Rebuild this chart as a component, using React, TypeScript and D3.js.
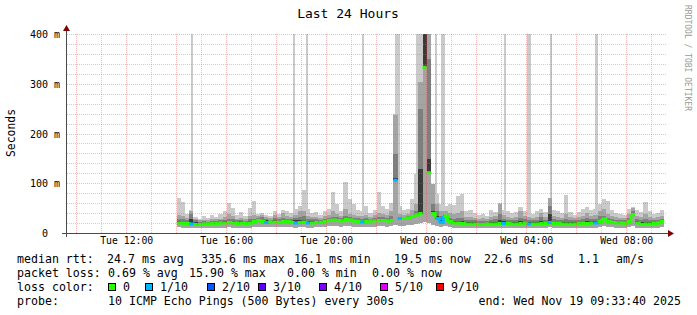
import React from 'react';
import * as d3 from 'd3';

// ---------- DATA ----------
const PLOT_START = '2025-11-18 09:36:40';
const PLOT_END = '2025-11-19 09:36:40';
const DATA_START = '2025-11-18 14:00:00';
const STEP_MIN = 10;

// median rtt (ms) per 10-minute bin
const median = [21,20,20,19,18,18,19,19,20,20,21,21,22,21,20,21,20,21,24,26,24,22,23,23,22,24,24,22,21,22,23,21,21,22,22,24,26,27,26,25,28,27,25,24,23,24,25,25,26,26,25,26,107,30,30,31,34,37,40,334,122,40,30,22,35,24,21,21,20,19,19,19,18,18,19,19,19,20,20,20,19,19,20,20,19,19,19,20,20,22,20,20,19,19,19,19,20,20,20,21,21,24,29,24,22,21,21,20,24,38,21,18,19,19,20,21,24];
// lost pings (of 10) per bin
const loss = [0,0,0,1,0,0,0,0,0,0,0,0,0,0,0,0,0,0,0,0,0,1,0,0,0,0,0,0,1,0,0,1,0,0,0,0,0,0,0,0,0,0,0,0,1,0,0,0,0,0,0,0,1,1,0,0,0,0,0,0,0,0,1,1,0,0,0,0,0,0,0,0,0,0,0,0,0,0,1,0,0,0,0,0,1,0,0,0,0,1,0,0,0,0,0,0,0,0,0,0,1,0,0,0,0,0,0,0,0,0,0,0,0,0,0,0,0];
// smoke: lowest ping, 7th, 8th, 9th and highest ping (ms)
const pingLo = [13,12,12,11,11,11,11,11,12,12,12,12,13,12,12,12,12,12,13,14,14,13,13,13,13,14,14,13,12,13,13,12,12,13,13,14,15,15,15,14,16,15,14,14,13,14,14,14,15,15,14,15,18,16,16,17,18,19,21,24,21,18,16,13,16,14,12,12,12,11,11,11,11,11,11,11,11,12,12,12,11,11,12,12,11,11,11,12,12,13,12,12,11,11,11,11,12,12,12,12,12,14,15,14,13,12,12,12,13,16,12,11,11,11,11,12,13];
const ping7 = [25,24,24,30,24,22,22,22,23,23,24,25,26,25,24,25,23,25,28,30,28,27,25,27,26,28,27,26,27,27,28,26,25,25,25,27,29,30,29,28,32,30,28,27,26,27,27,28,29,29,28,30,111,32,32,33,36,40,130,450,150,45,36,28,37,27,25,25,26,24,24,23,22,22,22,23,24,28,25,24,23,23,25,24,24,23,24,26,24,40,24,24,23,24,23,23,24,24,25,25,25,28,32,27,25,24,24,23,27,40,25,23,24,23,23,24,26];
const ping8 = [30,30,28,40,27,24,25,24,26,26,27,28,30,29,27,28,26,29,30,32,34,30,28,32,30,32,30,30,31,33,35,30,29,29,28,30,32,34,33,31,36,33,32,31,30,31,30,31,33,33,32,36,160,33,33,35,38,45,250,450,350,60,45,35,38,32,30,31,32,28,28,27,26,26,26,28,30,40,30,28,27,28,32,29,28,27,28,34,28,55,29,28,27,30,28,27,28,29,32,30,30,35,36,32,29,28,27,27,32,45,30,28,30,28,27,28,30];
const ping9 = [38,36,32,46,30,27,28,27,30,29,30,33,40,35,30,32,30,35,38,35,38,33,32,38,33,42,35,34,37,45,45,35,33,34,32,35,38,45,40,36,50,40,38,36,35,38,34,37,42,40,38,45,238,40,38,40,48,60,305,450,450,100,60,45,45,42,40,42,45,33,34,32,30,31,30,34,36,60,38,34,32,33,45,35,33,32,34,42,34,71,36,34,32,40,33,31,34,36,42,36,38,45,50,40,35,33,32,31,40,52,36,34,40,34,32,33,35];
const pingHi = [72,64,40,48,33,30,35,32,37,33,40,46,62,52,38,44,36,52,66,40,42,38,36,46,40,47,45,42,50,55,87,50,42,44,38,45,50,84,60,45,104,70,60,48,45,55,42,48,84,55,50,62,240,55,48,50,70,120,450,450,450,100,80,60,55,60,57,75,80,45,47,42,38,40,36,48,44,62,48,45,42,44,54,46,42,40,45,50,44,72,48,45,42,77,44,38,44,50,54,48,50,60,70,65,48,42,40,38,50,54,48,44,64,46,40,42,47];
// single 5-minute samples whose highest ping went off the scale
const spikeTimes = ['2025-11-18 14:35','2025-11-18 18:40','2025-11-18 19:10','2025-11-18 21:25','2025-11-18 22:45','2025-11-18 22:50','2025-11-18 23:35','2025-11-18 23:40','2025-11-19 00:20','2025-11-19 00:35','2025-11-19 00:40','2025-11-19 03:05','2025-11-19 04:00','2025-11-19 04:05','2025-11-19 04:55','2025-11-19 06:45'];
const spikeHi = [450,450,450,450,450,450,450,450,450,450,450,450,450,450,450,450];

const yTicks = [0, 100, 200, 300, 400];
const yTickLabels = ['0  ', '100 m', '200 m', '300 m', '400 m'];
const xLabelHours = [12, 16, 20, 0, 4, 8];

const lossLevels = [0, 1, 2, 3, 4, 5, 9];
const lossColors = ['#26ff00', '#00b8ff', '#0059ff', '#5e00ff', '#7e00ff', '#dd00ff', '#ff0000'];
const lossLabels = ['0', '1/10', '2/10', '3/10', '4/10', '5/10', '9/10'];

const title = 'Last 24 Hours';
const yTitle = 'Seconds';
const watermark = 'RRDTOOL / TOBI OETIKER';

// ---------- LAYOUT ----------
const W = 697, H = 315;
const X0 = 67, X1 = 667, Y0 = 233.5, Y1 = 34.5;
const FONT = '"DejaVu Sans Mono", monospace';

const parse = d3.timeParse('%Y-%m-%d %H:%M:%S');
const parseM = d3.timeParse('%Y-%m-%d %H:%M');

export default function App() {
  const x = d3.scaleTime().domain([parse(PLOT_START)!, parse(PLOT_END)!]).range([X0, X1]);
  const y = d3.scaleLinear().domain([0, 400]).range([Y0, Y1]);
  const start = parse(DATA_START)!;
  const times = median.map((_, i) => d3.timeMinute.offset(start, i * STEP_MIN));
  const tEnd = d3.timeMinute.offset(start, median.length * STEP_MIN);

  const band = (bot: number[], top: number[]) => {
    const pts = top.map((v, i) => ({ t: times[i], a: bot[i], b: v }));
    pts.push({ t: tEnd, a: bot[bot.length - 1], b: top[top.length - 1] });
    return d3.area<any>().x((d) => x(d.t)).y0((d) => y(d.a)).y1((d) => y(d.b)).curve(d3.curveStepAfter)(pts) || '';
  };

  const colorFor = (l: number) => {
    let c = lossColors[0];
    lossLevels.forEach((lv, k) => { if (l >= lv) c = lossColors[k]; });
    return c;
  };

  // grid
  const [d0, d1] = x.domain();
  const hours = d3.timeHour.range(d3.timeHour.ceil(d0), d1);
  const yMinor = d3.range(20, 401, 20).filter((v) => v % 100 !== 0);
  const yMajor = [100, 200, 300, 400];
  const px = (v: number) => Math.floor(v) + 0.5;

  const fmt = d3.timeFormat('%a %H:%M');
  const labelHours = hours.filter((h) => xLabelHours.includes(h.getHours()) && h.getMinutes() === 0);

  const medianSegs = median.map((m, i) => {
    const xa = x(times[i]);
    const xb = x(i + 1 < times.length ? times[i + 1] : tEnd);
    const ya = y(m);
    let d = `M${xa},${ya}H${xb}`;
    if (i + 1 < median.length) {
      const yn = y(median[i + 1]);
      if (Math.abs(yn - ya) < 8) d += `V${yn}`;
    }
    return { d, c: colorFor(loss[i]) };
  });

  const legendY = [263, 277, 291, 305];
  const boxX = [108.5, 145.5, 207.5, 258.5, 319.5, 380.5, 436.5];
  const minorC = 'rgba(140,140,140,0.42)';
  const majorC = 'rgba(230,70,70,0.38)';

  return (
    <svg width={W} height={H} style={{ display: 'block', position: 'absolute', left: 0, top: 0, background: '#fff' }} fontFamily={FONT}>
      <rect x={0} y={0} width={W} height={H} fill="#ffffff" />
      <defs>
        <clipPath id="plot"><rect x={X0} y={Y1 - 0.5} width={X1 - X0} height={Y0 - Y1 + 0.5} /></clipPath>
      </defs>
      <g clipPath="url(#plot)" shapeRendering="crispEdges">
        <path d={band(pingLo, pingHi)} fill="#cacaca" />
        {spikeTimes.map((s, i) => {
          const t = parseM(s)!;
          const xa = x(t), xb = x(d3.timeMinute.offset(t, 5));
          return <rect key={i} x={xa} width={xb - xa} y={y(spikeHi[i])} height={y(20) - y(spikeHi[i])} fill="#cacaca" />;
        })}
        <path d={band(pingLo, ping9)} fill="#a4a4a4" />
        <path d={band(median, ping8)} fill="#7e7e7e" />
        <path d={band(median, ping7)} fill="#3a3a3a" />
      </g>
      <g clipPath="url(#plot)">
        {medianSegs.map((s, i) => (
          <path key={i} d={s.d} stroke={s.c} strokeWidth={3} fill="none" />
        ))}
      </g>
      {/* grid */}
      <g strokeDasharray="1,1" strokeWidth={1} shapeRendering="crispEdges">
        {yMinor.map((v) => (
          <line key={'ym' + v} x1={X0} x2={X1} y1={px(y(v))} y2={px(y(v))} stroke={minorC} />
        ))}
        {hours.filter((h) => h.getHours() % 2 !== 0).map((h, i) => (
          <line key={'xm' + i} x1={px(x(h))} x2={px(x(h))} y1={Y1 - 0.5} y2={Y0} stroke={minorC} />
        ))}
        {yMajor.map((v) => (
          <line key={'yM' + v} x1={X0} x2={X1} y1={px(y(v))} y2={px(y(v))} stroke={majorC} />
        ))}
        {hours.filter((h) => h.getHours() % 2 === 0).map((h, i) => (
          <line key={'xM' + i} x1={px(x(h))} x2={px(x(h))} y1={Y1 - 0.5} y2={Y0} stroke={majorC} />
        ))}
      </g>
      {/* axes */}
      <g shapeRendering="crispEdges" stroke="#4a4a4a">
        <line x1={62} x2={670} y1={233.5} y2={233.5} />
        <line x1={66.5} x2={66.5} y1={29} y2={237} />
      </g>
      <path d="M63,31L70,31L66.5,25Z" fill="#7f0000" />
      <path d="M668,230L668,237L674,233.5Z" fill="#7f0000" />
      {/* y tick labels */}
      <g opacity={0.999}>
        {yTicks.map((v, i) => (
          <text key={'yl' + v} x={60} y={y(v) + 3.5} textAnchor="end" fontSize={10} style={{ whiteSpace: 'pre' }} fill="#000000">{yTickLabels[i]}</text>
        ))}
      </g>
      {labelHours.map((h, i) => (
        <text key={'xl' + i} x={x(h)} y={244} textAnchor="middle" fontSize={9.8} fill="#000">{fmt(h)}</text>
      ))}
      <text x={348} y={18} textAnchor="middle" fontSize={13} fill="#000">{title}</text>
      <text transform="translate(15,133) rotate(-90)" textAnchor="middle" fontSize={11.4} fill="#000">{yTitle}</text>
      <text transform="translate(685,5) rotate(90)" fontSize={8} fill="#9a9a9a">{watermark}</text>
      {/* legend */}
      <g fontSize={11.6} fill="#000" style={{ whiteSpace: 'pre' }}>
        <text x={17} y={legendY[0]}>median rtt:</text>
        <text x={107} y={legendY[0]}>24.7 ms avg</text>
        <text x={201} y={legendY[0]}>335.6 ms max</text>
        <text x={294} y={legendY[0]}>16.1 ms min</text>
        <text x={394} y={legendY[0]}>19.5 ms now</text>
        <text x={484} y={legendY[0]}>22.6 ms sd</text>
        <text x={578} y={legendY[0]}>1.1</text>
        <text x={616} y={legendY[0]}>am/s</text>
        <text x={17} y={legendY[1]}>packet loss:</text>
        <text x={108} y={legendY[1]}>0.69 % avg</text>
        <text x={189} y={legendY[1]}>15.90 % max</text>
        <text x={287} y={legendY[1]}>0.00 % min</text>
        <text x={372} y={legendY[1]}>0.00 % now</text>
        <text x={17} y={legendY[2]}>loss color:</text>
        {lossLabels.map((l, i) => (
          <g key={l}>
            <rect x={boxX[i]} y={283.5} width={7} height={7} fill={lossColors[i]} stroke="#000" strokeWidth={1} shapeRendering="crispEdges" />
            <text x={boxX[i] + 14.5} y={legendY[2]}>{l}</text>
          </g>
        ))}
        <text x={17} y={legendY[3]}>probe:</text>
        <text x={108} y={legendY[3]}>10 ICMP Echo Pings (500 Bytes) every 300s</text>
        <text x={681} y={legendY[3]} textAnchor="end">end: Wed Nov 19 09:33:40 2025</text>
      </g>
    </svg>
  );
}
